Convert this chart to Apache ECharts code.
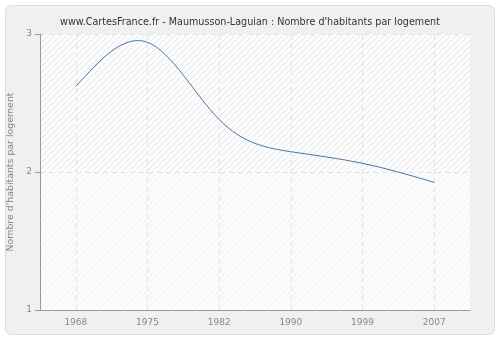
<!DOCTYPE html>
<html><head><meta charset="utf-8">
<script src="https://cdn.jsdelivr.net/npm/echarts@6/dist/echarts.min.js"></script>
<style>html,body{margin:0;padding:0;background:#fff}#c{width:500px;height:340px}</style>
</head><body><div id="c"></div>
<script>
const years = ['1968','1975','1982','1990','1999','2007'];
const values = [2.62, 2.94, 2.38, 2.147, 2.063, 1.925];
const yTicks = [1, 2, 3];
const titleText = "www.CartesFrance.fr - Maumusson-Laguian : Nombre d'habitants par logement";
const yName = "Nombre d'habitants par logement";

// natural cubic spline derivatives (unit spacing in category index)
function splineDerivs(y) {
  const n = y.length - 1;
  const M = new Array(n + 1).fill(0);
  if (n >= 2) {
    const a = [], b = [], c = [], r = [];
    for (let i = 1; i < n; i++) {
      a.push(1); b.push(4); c.push(1);
      r.push(6 * (y[i + 1] - 2 * y[i] + y[i - 1]));
    }
    const m = r.length;
    for (let i = 1; i < m; i++) {
      const w = a[i] / b[i - 1];
      b[i] -= w * c[i - 1];
      r[i] -= w * r[i - 1];
    }
    const sol = new Array(m);
    sol[m - 1] = r[m - 1] / b[m - 1];
    for (let i = m - 2; i >= 0; i--) sol[i] = (r[i] - c[i] * sol[i + 1]) / b[i];
    for (let i = 1; i < n; i++) M[i] = sol[i - 1];
  }
  const d = [];
  for (let i = 0; i < n; i++) d.push((y[i + 1] - y[i]) - (2 * M[i] + M[i + 1]) / 6);
  d.push((y[n] - y[n - 1]) + (M[n - 1] + 2 * M[n]) / 6);
  return d;
}
const derivs = splineDerivs(values);

function hatch(bg, line) {
  const cv = document.createElement('canvas');
  cv.width = 6; cv.height = 6;
  const g = cv.getContext('2d');
  g.fillStyle = bg; g.fillRect(0, 0, 6, 6);
  g.strokeStyle = line; g.lineWidth = 1;
  g.beginPath();
  g.moveTo(-1, 7); g.lineTo(7, -1);
  g.moveTo(-1, 1); g.lineTo(1, -1);
  g.moveTo(5, 7); g.lineTo(7, 5);
  g.stroke();
  return cv;
}

const chart = echarts.init(document.getElementById('c'), null, {renderer: 'canvas'});
chart.setOption({
  backgroundColor: '#ffffff',
  animation: false,
  graphic: [{
    type: 'rect', z: -10, silent: true,
    shape: {x: 5.5, y: 5.5, width: 489, height: 329, r: 6},
    style: {fill: '#f0f0f0', stroke: '#dcdcdc', lineWidth: 1}
  }],
  title: {
    text: titleText, left: 'center', top: 12,
    textStyle: {fontFamily: 'DejaVu Sans', fontSize: 9.6, fontWeight: 'normal', color: '#333'}
  },
  grid: {left: 40, right: 30, top: 34, bottom: 30, show: true, backgroundColor: '#fafafa', borderWidth: 0, outerBoundsMode: 'none', containLabel: false},
  xAxis: {
    type: 'category', data: years, boundaryGap: true,
    axisLine: {lineStyle: {color: '#999'}},
    axisTick: {alignWithLabel: true, length: 5, lineStyle: {color: '#999'}},
    axisLabel: {color: '#888', fontFamily: 'DejaVu Sans', fontSize: 9, margin: 8},
    splitLine: {show: true, alignWithLabel: true, lineStyle: {color: '#e2e2e2', type: [5, 4]}}
  },
  yAxis: {
    type: 'value', min: yTicks[0], max: yTicks[yTicks.length-1], interval: 1,
    name: yName, nameLocation: 'middle', nameGap: 23,
    nameTextStyle: {color: '#888', fontFamily: 'DejaVu Sans', fontSize: 9.4},
    axisLine: {show: true, lineStyle: {color: '#999'}},
    axisTick: {show: true, length: 5, lineStyle: {color: '#999'}},
    axisLabel: {color: '#888', fontFamily: 'DejaVu Sans', fontSize: 9, margin: 8},
    splitLine: {show: true, lineStyle: {color: '#e2e2e2', type: [5, 4]}},
    splitArea: {show: true, areaStyle: {color: [
      {image: hatch('#fcfcfc', '#f1f1f1'), repeat: 'repeat'},
      {image: hatch('#fcfcfc', '#e6e6e6'), repeat: 'repeat'}
    ]}}
  },
  series: [{
    type: 'custom', clip: false,
    data: values.map((v, i) => [i, v]),
    renderItem: function (params, api) {
      const i = params.dataIndex;
      if (i >= values.length - 1) return null;
      const p0 = api.coord([i, values[i]]);
      const p3 = api.coord([i + 1, values[i + 1]]);
      const y1 = api.coord([i, values[i] + derivs[i] / 3])[1];
      const y2 = api.coord([i, values[i + 1] - derivs[i + 1] / 3])[1];
      const dx = p3[0] - p0[0];
      return {
        type: 'bezierCurve',
        shape: {x1: p0[0], y1: p0[1], x2: p3[0], y2: p3[1],
                cpx1: p0[0] + dx / 3, cpy1: y1, cpx2: p0[0] + 2 * dx / 3, cpy2: y2},
        style: {stroke: '#4a77aa', lineWidth: 1, fill: 'none'}
      };
    }
  }]
});
</script></body></html>
